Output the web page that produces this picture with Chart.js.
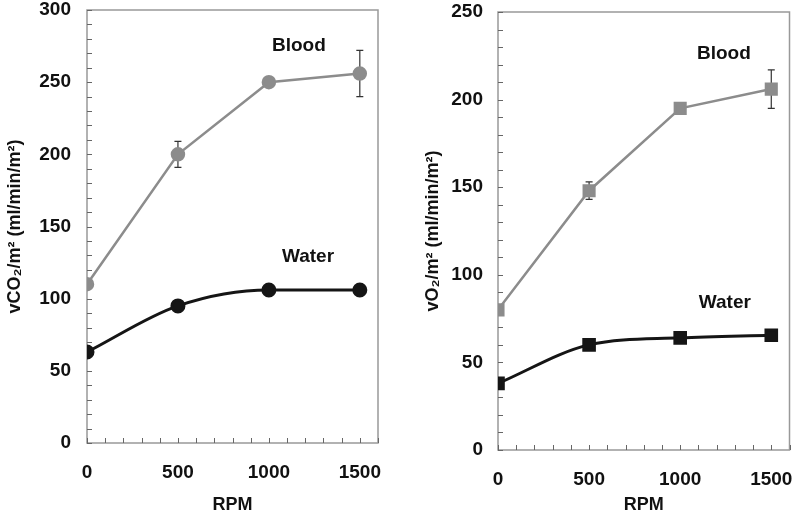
<!DOCTYPE html>
<html>
<head>
<meta charset="utf-8">
<script src="https://cdn.jsdelivr.net/npm/chart.js@4.4.1/dist/chart.umd.min.js"></script>
<style>
html, body { margin: 0; padding: 0; background: #fff; }
#wrap { position: relative; width: 800px; height: 514px; }
.panel { position: absolute; top: 0; width: 400px; height: 514px; }
</style>
</head>
<body>
<div id="wrap">
  <div class="panel" style="left:0"><canvas id="co2Chart" width="400" height="514"></canvas></div>
  <div class="panel" style="left:400px"><canvas id="o2Chart" width="400" height="514"></canvas></div>
</div>
<script>
// data
const rpm = [0, 500, 1000, 1500];

const co2Blood = [110, 200, 250, 256];
const co2BloodErr = [0, 9, 0, 16];
const co2Water = [63, 95, 106, 106];

const o2Blood = [80, 148, 195, 206];
const o2BloodErr = [0, 5, 0, 11];
const o2Water = [38, 60, 64, 65.5];

const xTickLabels = [0, 500, 1000, 1500];

const FONT = "'Liberation Sans', Arial, sans-serif";
const GREY = "#8c8c8c";
const BLACK = "#151515";

const toPoints = (ys) => rpm.map((r, i) => ({ x: r, y: ys[i] }));

// frame, inward tick marks, error bars and the in-plot labels
const panelDecor = {
    id: "panelDecor",
    beforeDatasetsDraw(chart, args, opts) {
        const { ctx, chartArea: a, scales: { x, y } } = chart;
        ctx.save();
        ctx.strokeStyle = "#999";
        ctx.lineWidth = 1.5;
        ctx.strokeRect(a.left, a.top, a.width, a.height);

        ctx.strokeStyle = "#666";
        ctx.lineWidth = 1;
        ctx.beginPath();
        y.ticks.forEach(t => {
            const py = Math.round(y.getPixelForValue(t.value)) + 0.5;
            ctx.moveTo(a.left, py);
            ctx.lineTo(a.left + 5, py);
        });
        x.ticks.forEach(t => {
            const px = Math.round(x.getPixelForValue(t.value)) + 0.5;
            ctx.moveTo(px, a.bottom);
            ctx.lineTo(px, a.bottom - 5);
        });
        ctx.stroke();

        // error bars
        ctx.strokeStyle = "#333";
        ctx.lineWidth = 1.2;
        (opts.errors || []).forEach(e => {
            const ds = chart.data.datasets[e.dataset].data;
            ds.forEach((p, i) => {
                const err = e.values[i];
                if (!err) return;
                const px = x.getPixelForValue(p.x);
                const top = y.getPixelForValue(p.y + err);
                const bot = y.getPixelForValue(p.y - err);
                ctx.beginPath();
                ctx.moveTo(px, top);
                ctx.lineTo(px, bot);
                ctx.moveTo(px - 3.5, top);
                ctx.lineTo(px + 3.5, top);
                ctx.moveTo(px - 3.5, bot);
                ctx.lineTo(px + 3.5, bot);
                ctx.stroke();
            });
        });
        ctx.restore();
    },
    afterDraw(chart, args, opts) {
        const { ctx, scales: { x, y } } = chart;
        ctx.save();
        ctx.fillStyle = "#111";
        ctx.font = "bold 19px " + FONT;
        ctx.textAlign = "center";
        ctx.textBaseline = "middle";
        (opts.notes || []).forEach(n => {
            ctx.fillText(n.text, x.getPixelForValue(n.x), y.getPixelForValue(n.y));
        });
        ctx.restore();
    }
};

function makePanel(canvasId, blood, water, err, yMax, yTitle, marker, radius, geom) {
    return new Chart(document.getElementById(canvasId), {
        type: "line",
        data: {
            datasets: [{
                label: "Blood",
                data: toPoints(blood),
                borderColor: GREY,
                backgroundColor: GREY,
                borderWidth: 2.5,
                tension: 0,
                pointStyle: marker,
                pointRadius: radius,
                pointBackgroundColor: GREY,
                pointBorderColor: GREY
            }, {
                label: "Water",
                data: toPoints(water),
                borderColor: BLACK,
                backgroundColor: BLACK,
                borderWidth: 3,
                cubicInterpolationMode: "monotone",
                pointStyle: marker,
                pointRadius: radius,
                pointBackgroundColor: BLACK,
                pointBorderColor: BLACK
            }]
        },
        options: {
            responsive: false,
            animation: false,
            events: [],
            layout: {
                padding: { top: geom.top, right: geom.right, left: 0, bottom: 0 }
            },
            plugins: {
                legend: { display: false },
                tooltip: { enabled: false },
                panelDecor: geom.decor
            },
            scales: {
                x: {
                    type: "linear",
                    min: 0,
                    max: 1600,
                    afterFit: (s) => {
                        s.height = geom.xHeight;
                        s.paddingLeft = 0;
                        s.paddingRight = 0;
                    },
                    grid: { display: false, drawTicks: false },
                    border: { display: false },
                    ticks: {
                        stepSize: 100,
                        autoSkip: false,
                        maxRotation: 0,
                        padding: geom.xPad,
                        color: "#111",
                        font: { family: FONT, size: 19, weight: "bold" },
                        callback: (v) => xTickLabels.includes(v) ? String(v) : ""
                    },
                    title: {
                        display: true,
                        text: "RPM",
                        color: "#111",
                        font: { family: FONT, size: 18, weight: "bold", lineHeight: 1 },
                        padding: { top: 0, bottom: 0 }
                    }
                },
                y: {
                    min: 0,
                    max: yMax,
                    afterFit: (s) => {
                        s.width = geom.yWidth;
                        s.paddingTop = 0;
                        s.paddingBottom = 0;
                    },
                    grid: { display: false, drawTicks: false },
                    border: { display: false },
                    ticks: {
                        stepSize: 10,
                        autoSkip: false,
                        padding: geom.yPad,
                        color: "#111",
                        font: { family: FONT, size: 19, weight: "bold" },
                        callback: (v) => v % 50 === 0 ? String(v) : ""
                    },
                    title: {
                        display: true,
                        text: yTitle,
                        color: "#111",
                        font: { family: FONT, size: 18, weight: "bold", lineHeight: 1.2 },
                        padding: { top: geom.titlePad, bottom: 0 }
                    }
                }
            }
        },
        plugins: [panelDecor]
    });
}

makePanel("co2Chart", co2Blood, co2Water, co2BloodErr, 300,
    "vCO\u2082/m\u00b2 (ml/min/m\u00b2)", "circle", 6, {
        top: 10, right: 22, xHeight: 71, yWidth: 87, xPad: 18, yPad: 16, titlePad: 4,
        decor: {
            errors: [{ dataset: 0, values: co2BloodErr }],
            notes: [{ text: "Blood", x: 1165, y: 275 }, { text: "Water", x: 1215, y: 129 }]
        }
    });

makePanel("o2Chart", o2Blood, o2Water, o2BloodErr, 250,
    "vO\u2082/m\u00b2 (ml/min/m\u00b2)", "rect", 7.5, {
        top: 12, right: 5, xHeight: 64, yWidth: 98, xPad: 18, yPad: 15, titlePad: 22,
        decor: {
            errors: [{ dataset: 0, values: o2BloodErr }],
            notes: [{ text: "Blood", x: 1240, y: 226 }, { text: "Water", x: 1245, y: 84 }]
        }
    });
</script>
</body>
</html>
